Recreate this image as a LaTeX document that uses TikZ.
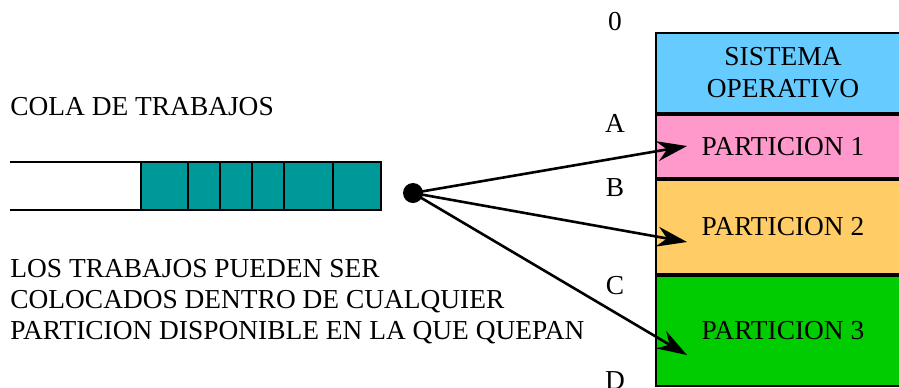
\documentclass[tikz,border=0pt]{standalone}
\usepackage{fontspec}
\setmainfont{Liberation Serif}
\usepackage{xcolor}
\usetikzlibrary{arrows.meta}

\definecolor{colatrab}{RGB}{0,153,153}
\definecolor{azulso}{RGB}{102,204,255}
\definecolor{rosapart}{RGB}{255,153,204}
\definecolor{naranjapart}{RGB}{255,204,102}
\definecolor{verdepart}{RGB}{0,204,0}

\begin{document}
\begin{tikzpicture}[x=0.5pt,y=-0.5pt,
    bloque/.style={draw=black,line width=1.1pt},
    texto/.style={inner sep=0pt,font=\fontsize{13.7}{16}\selectfont},
    flecha/.style={-{Stealth[length=15pt,width=10pt]},line width=1.3pt}]
    \path[use as bounding box,clip] (0,0) rectangle (899,387);
    % cola de trabajos
    \draw[line width=1pt] (10,162) -- (141,162);
    \draw[line width=1pt] (10,210) -- (141,210);
    \draw[bloque,fill=colatrab] (141,162) rectangle (381,210);
    \foreach \x in {188,220,252,284,333} {
        \draw[line width=1pt] (\x,162) -- (\x,210);
    }
    \node[texto,anchor=west] (titulo) at (10,107) {COLA DE TRABAJOS};
    \node[texto,anchor=west,align=left,font=\fontsize{13.7}{15.5}\selectfont] (nota) at (10,302)
        {LOS TRABAJOS PUEDEN SER\\COLOCADOS DENTRO DE CUALQUIER\\PARTICION DISPONIBLE EN LA QUE QUEPAN};
    % memoria
    \foreach \nom/\ya/\yb/\col/\txt in {so/33/113/azulso/{SISTEMA\\OPERATIVO},
            p1/115/178/rosapart/{PARTICION 1},
            p2/180/274/naranjapart/{PARTICION 2},
            p3/276/386/verdepart/{PARTICION 3}} {
        \draw[bloque,fill=\col] (656,\ya) rectangle (910,\yb);
        \node[texto,align=center] (\nom) at (783,{(\ya+\yb)/2}) {\txt};
    }
    \foreach \nom/\y in {0/22,A/123,B/188,C/286,D/381} {
        \node[texto] (l\nom) at (615,\y) {\nom};
    }
    % asignacion
    \node[circle,fill=black,inner sep=0pt,minimum size=10pt] (punto) at (413,193) {};
    \coordinate (t1) at (687,146);
    \coordinate (t2) at (687,242);
    \coordinate (t3) at (687,355);
    \foreach \t in {t1,t2,t3} {
        \draw[flecha] (punto.center) -- (\t);
    }
\end{tikzpicture}
\end{document}
